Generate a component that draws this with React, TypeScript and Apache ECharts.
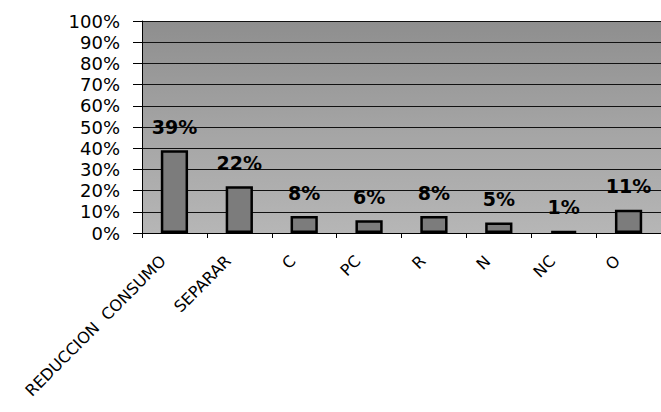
import React, { useEffect, useRef } from "react";
import * as echarts from "echarts";

const categories = ["REDUCCION  CONSUMO", "SEPARAR", "C", "PC", "R", "N", "NC", "O"];
const values = [39, 22, 8, 6, 8, 5, 1, 11];
const yTicks = [0, 10, 20, 30, 40, 50, 60, 70, 80, 90, 100];

export default function App() {
  const ref = useRef<HTMLDivElement>(null);
  useEffect(() => {
    if (!ref.current) return;
    const chart = echarts.init(ref.current, null, { renderer: "svg" });
    chart.setOption({
      animation: false,
      backgroundColor: "#ffffff",
      grid: {
        left: 142,
        right: -9,
        top: 21,
        bottom: 179,
        show: true,
        borderWidth: 0,
        backgroundColor: new echarts.graphic.LinearGradient(0, 0, 0, 1, [
          { offset: 0, color: "#8e8e8e" },
          { offset: 0.5, color: "#a4a4a4" },
          { offset: 1, color: "#b6b6b6" },
        ]),
      },
      xAxis: {
        type: "category",
        data: categories,
        axisLine: { show: true, lineStyle: { color: "#000", width: 1 } },
        axisTick: { show: true, length: 5, lineStyle: { color: "#000" } },
        axisLabel: {
          interval: 0,
          rotate: 45,
          margin: 14,
          padding: [0, 16, 0, 0],
          color: "#000",
          fontFamily: "DejaVu Sans",
          fontSize: 16,
        },
      },
      yAxis: {
        type: "value",
        min: yTicks[0],
        max: yTicks[yTicks.length - 1],
        interval: 10,
        axisLine: { show: true, lineStyle: { color: "#000", width: 1 } },
        axisTick: { show: true, length: 9, lineStyle: { color: "#000" } },
        axisLabel: {
          formatter: "{value}%",
          margin: 22,
          showMinLabel: true,
          showMaxLabel: true,
          hideOverlap: false,
          color: "#000",
          fontFamily: "DejaVu Sans",
          fontSize: 18,
          lineHeight: 18,
        },
        splitLine: { show: true, lineStyle: { color: "#111", width: 1 } },
      },
      series: [
        {
          type: "bar",
          data: values,
          barWidth: "42%",
          itemStyle: { color: "#7c7c7c", borderColor: "#000", borderWidth: 2.5 },
          label: {
            show: true,
            position: "top",
            distance: 14,
            formatter: "{c}%",
            color: "#000",
            fontFamily: "DejaVu Sans",
            fontWeight: "bold",
            fontSize: 19,
          },
        },
      ],
    });
    return () => chart.dispose();
  }, []);
  return <div ref={ref} style={{ width: 661, height: 412, position: "absolute", left: 0, top: 0 }} />;
}
